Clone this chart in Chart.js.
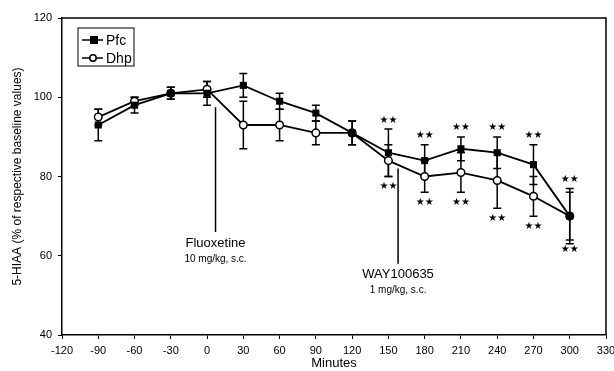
<!DOCTYPE html>
<html>
<head>
<meta charset="utf-8">
<script src="https://cdn.jsdelivr.net/npm/chart.js@4.4.0/dist/chart.umd.min.js"></script>
<style>
  html, body { margin: 0; padding: 0; background: #fff; }
  #wrap { width: 614px; height: 371px; }
</style>
</head>
<body>
<div id="wrap"><canvas id="c" width="614" height="371"></canvas></div>
<script>
var minutes = [-90, -60, -30, 0, 30, 60, 90, 120, 150, 180, 210, 240, 270, 300];
var pfcMean = [93, 98, 101, 101, 103, 99, 96, 91, 86, 84, 87, 86, 83, 70];
var pfcSem  = [4, 2, 1.5, 3, 3, 2, 2, 3, 6, 4, 3, 4, 5, 7];
var dhpMean = [95, 99, 101, 102, 93, 93, 91, 91, 84, 80, 81, 79, 75, 70];
var dhpSem  = [2, 1, 1.5, 2, 6, 4, 3, 3, 4, 4, 5, 7, 5, 6];
// ** markers (p<0.01), one flag per time point
var pfcSig = [0, 0, 0, 0, 0, 0, 0, 0, 1, 1, 1, 1, 1, 1];
var dhpSig = [0, 0, 0, 0, 0, 0, 0, 0, 1, 1, 1, 1, 1, 1];
// drug injections: time, top/bottom of marker line, labels
var injections = [
    {x: 7, top: 97.5, bottom: 66, name: 'Fluoxetine', dose: '10 mg/kg, s.c.'},
    {x: 158, top: 82, bottom: 58, name: 'WAY100635', dose: '1 mg/kg, s.c.'}
];

var FONT = '"Liberation Sans", Arial, sans-serif';

function pts(means) {
    return minutes.map(function (m, i) { return {x: m, y: means[i]}; });
}

var extras = {
    id: 'extras',
    beforeDatasetsDraw: function (chart) {
        var ctx = chart.ctx, xs = chart.scales.x, ys = chart.scales.y;
        ctx.save();
        ctx.strokeStyle = '#000';
        ctx.lineWidth = 1.5;
        [[pfcMean, pfcSem], [dhpMean, dhpSem]].forEach(function (s) {
            minutes.forEach(function (m, i) {
                var px = xs.getPixelForValue(m);
                var hi = ys.getPixelForValue(s[0][i] + s[1][i]);
                var lo = ys.getPixelForValue(s[0][i] - s[1][i]);
                ctx.beginPath();
                ctx.moveTo(px, hi); ctx.lineTo(px, lo);
                ctx.moveTo(px - 4, hi); ctx.lineTo(px + 4, hi);
                ctx.moveTo(px - 4, lo); ctx.lineTo(px + 4, lo);
                ctx.stroke();
            });
        });
        // injection marker lines
        injections.forEach(function (inj) {
            var px = xs.getPixelForValue(inj.x);
            ctx.beginPath();
            ctx.moveTo(px, ys.getPixelForValue(inj.top));
            ctx.lineTo(px, ys.getPixelForValue(inj.bottom));
            ctx.stroke();
        });
        ctx.restore();
    },
    afterDatasetsDraw: function (chart) {
        var ctx = chart.ctx, xs = chart.scales.x, ys = chart.scales.y;
        var a = chart.chartArea;
        ctx.save();
        // frame top + right
        ctx.strokeStyle = '#000';
        ctx.lineWidth = 1.5;
        ctx.beginPath();
        ctx.moveTo(a.left, a.top); ctx.lineTo(a.right, a.top); ctx.lineTo(a.right, a.bottom);
        ctx.stroke();

        // stars
        ctx.fillStyle = '#000';
        ctx.font = '10px "DejaVu Sans"';
        ctx.textAlign = 'center';
        ctx.textBaseline = 'middle';
        function stars(px, py) {
            ctx.fillText('\u2605', px - 4.5, py);
            ctx.fillText('\u2605', px + 4.5, py);
        }
        minutes.forEach(function (m, i) {
            var px = xs.getPixelForValue(m);
            if (pfcSig[i]) stars(px, ys.getPixelForValue(pfcMean[i] + pfcSem[i]) - 9);
            if (dhpSig[i]) stars(px, ys.getPixelForValue(dhpMean[i] - dhpSem[i]) + 10);
        });

        // injection labels
        injections.forEach(function (inj) {
            var px = xs.getPixelForValue(inj.x);
            var py = ys.getPixelForValue(inj.bottom);
            ctx.font = '13px ' + FONT;
            ctx.fillText(inj.name, px, py + 11);
            ctx.font = '10px ' + FONT;
            ctx.fillText(inj.dose, px, py + 27);
        });

        // legend
        var lx = a.left + 16, ly = a.top + 10;
        ctx.lineWidth = 1;
        ctx.strokeRect(lx, ly, 56, 38);
        ctx.lineWidth = 1.5;
        ctx.textAlign = 'left';
        ctx.font = '14px ' + FONT;
        [['Pfc', true, 12], ['Dhp', false, 30]].forEach(function (e) {
            var y = ly + e[2];
            ctx.beginPath();
            ctx.moveTo(lx + 4, y); ctx.lineTo(lx + 25, y);
            ctx.stroke();
            if (e[1]) {
                ctx.fillRect(lx + 12, y - 4, 8, 8);
            } else {
                ctx.beginPath();
                ctx.arc(lx + 15, y, 3.2, 0, Math.PI * 2);
                ctx.fillStyle = '#fff'; ctx.fill();
                ctx.stroke();
                ctx.fillStyle = '#000';
            }
            ctx.fillText(e[0], lx + 28, y + 1);
        });
        ctx.restore();
    }
};

new Chart(document.getElementById('c'), {
    type: 'line',
    data: {
        datasets: [{
            label: 'Pfc',
            data: pts(pfcMean),
            borderColor: '#000',
            backgroundColor: '#000',
            borderWidth: 1.8,
            pointStyle: 'rect',
            pointRadius: 5,
            pointBorderWidth: 0,
            pointBackgroundColor: '#000',
            tension: 0
        }, {
            label: 'Dhp',
            data: pts(dhpMean),
            borderColor: '#000',
            backgroundColor: '#fff',
            borderWidth: 1.8,
            pointStyle: 'circle',
            pointRadius: 3.8,
            pointBorderWidth: 1.5,
            pointBackgroundColor: '#fff',
            tension: 0
        }]
    },
    options: {
        responsive: false,
        animation: false,
        layout: {padding: {left: 0, right: 8, top: 18, bottom: 0}},
        plugins: {legend: {display: false}, tooltip: {enabled: false}},
        scales: {
            x: {
                type: 'linear', min: -120, max: 330,
                afterFit: function (s) { s.height = 36; s.paddingRight = 0; s.paddingLeft = 0; },
                border: {color: '#000', width: 1.5},
                grid: {drawOnChartArea: false, color: '#000', tickLength: 4},
                ticks: {stepSize: 30, color: '#000', padding: 5, maxRotation: 0,
                        font: {family: FONT, size: 11}},
                title: {display: true, text: 'Minutes', color: '#000', padding: {top: 2, bottom: 0},
                        font: {family: FONT, size: 13}}
            },
            y: {
                min: 40, max: 120,
                afterFit: function (s) { s.width = 62; },
                border: {color: '#000', width: 1.5},
                grid: {drawOnChartArea: false, color: '#000', tickLength: 4},
                ticks: {stepSize: 20, color: '#000', padding: 6,
                        font: {family: FONT, size: 11}},
                title: {display: true, text: '5-HIAA (% of respective baseline values)', color: '#000',
                        padding: {top: 10, bottom: 0}, font: {family: FONT, size: 12}}
            }
        }
    },
    plugins: [extras]
});
</script>
</body>
</html>
